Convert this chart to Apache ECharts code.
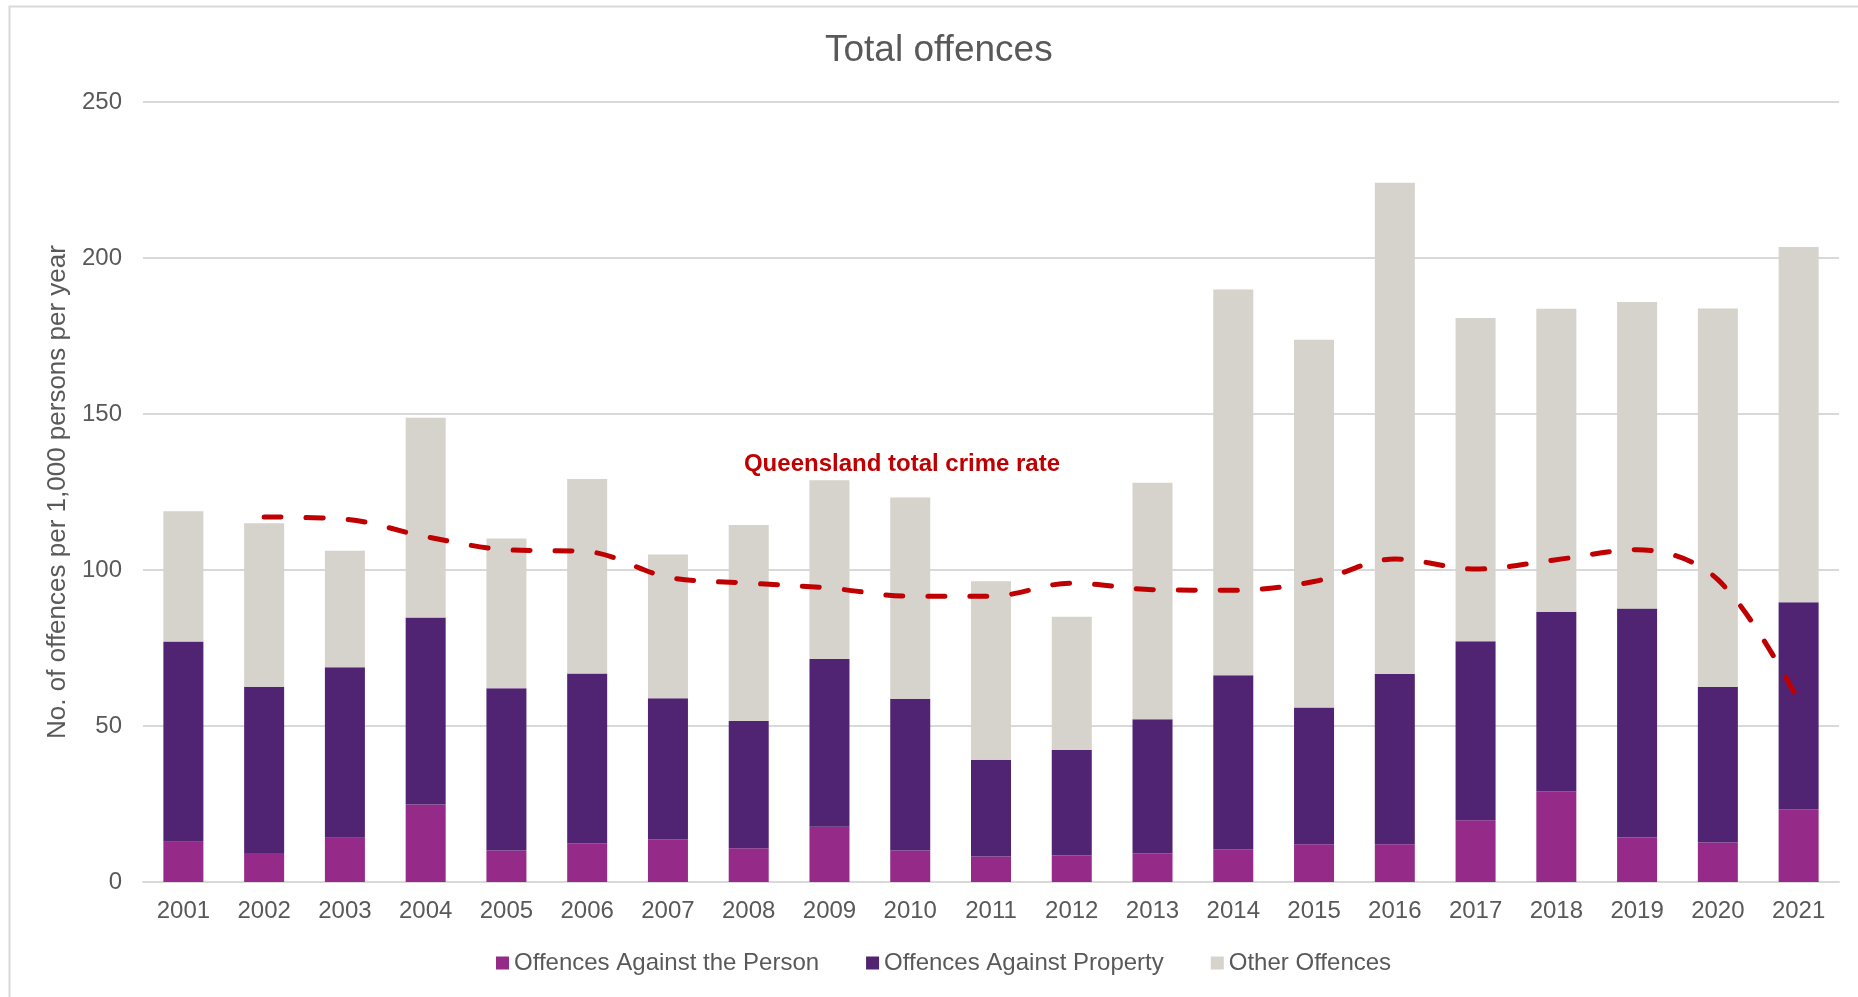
<!DOCTYPE html>
<html>
<head>
<meta charset="utf-8">
<script src="https://cdn.jsdelivr.net/npm/echarts@6/dist/echarts.min.js"></script>
<style>
html,body{margin:0;padding:0;background:#fff;}
#chart{width:1858px;height:997px;}
</style>
</head>
<body>
<div id="chart"></div>
<script>
const years = ['2001','2002','2003','2004','2005','2006','2007','2008','2009','2010','2011','2012','2013','2014','2015','2016','2017','2018','2019','2020','2021'];
const againstPerson = [12.9, 9.3, 14.2, 24.8, 10.1, 12.4, 13.7, 10.8, 17.7, 10.1, 8.2, 8.5, 9.2, 10.5, 12.1, 12.1, 19.8, 29.1, 14.3, 12.7, 23.3];
const againstProperty = [64.2, 53.3, 54.6, 60.0, 52.0, 54.4, 45.2, 40.8, 53.8, 48.6, 31.0, 33.8, 43.0, 55.8, 43.8, 54.6, 57.4, 57.5, 73.4, 49.8, 66.4];
const otherOffences = [41.7, 52.4, 37.4, 64.0, 48.0, 62.4, 46.1, 62.8, 57.3, 64.5, 57.2, 42.7, 75.8, 123.6, 117.9, 157.4, 103.6, 97.1, 98.2, 121.3, 113.8];
const qldRate = [null, 117.0, 116.3, 110.7, 106.5, 105.9, 97.7, 95.8, 94.2, 91.6, 91.6, 95.8, 93.7, 93.5, 96.3, 103.5, 100.3, 103.3, 106.5, 96.9, 58.0];
const yTicks = [0, 50, 100, 150, 200, 250];

const FONT = '"Liberation Sans", Arial, Helvetica, sans-serif';
const GREY = '#595959';

const chart = echarts.init(document.getElementById('chart'));
chart.setOption({
  backgroundColor: '#ffffff',
  animation: false,
  title: {
    text: 'Total offences',
    left: 825, top: 32, padding: 0,
    textStyle: { fontFamily: FONT, fontSize: 37, fontWeight: 'normal', color: GREY }
  },
  legend: {
    data: ['Offences Against the Person', 'Offences Against Property', 'Other Offences'],
    left: 496, top: 951, padding: 0,
    itemWidth: 13, itemHeight: 13, itemGap: 47,
    icon: 'rect',
    textStyle: { fontFamily: FONT, fontSize: 24, color: GREY }
  },
  grid: { left: 143, right: 19, top: 102, bottom: 115, containLabel: false },
  xAxis: {
    type: 'category',
    data: years,
    axisLine: { show: true, lineStyle: { color: '#D9D9D9', width: 2 } },
    axisTick: { show: false },
    axisLabel: { fontFamily: FONT, fontSize: 24, color: GREY, margin: 17 }
  },
  yAxis: {
    type: 'value',
    min: yTicks[0], max: yTicks[yTicks.length - 1], interval: 50,
    name: 'No. of offences per 1,000 persons per year',
    nameLocation: 'middle',
    nameGap: 71,
    nameTextStyle: { fontFamily: FONT, fontSize: 26, color: GREY },
    axisLine: { show: false },
    axisTick: { show: false },
    axisLabel: { fontFamily: FONT, fontSize: 24, color: GREY, margin: 21 },
    splitLine: { lineStyle: { color: '#D9D9D9', width: 2 } }
  },
  graphic: [
    {
      type: 'rect', z: -10, silent: true,
      shape: { x: 9.5, y: 6.5, width: 2400, height: 2400 },
      style: { fill: 'none', stroke: '#D9D9D9', lineWidth: 2 }
    },
    {
      type: 'text', z: 100, silent: true,
      x: 902, y: 464,
      style: {
        text: 'Queensland total crime rate',
        fill: '#C00000',
        font: 'bold 24px ' + FONT,
        textAlign: 'center', textVerticalAlign: 'middle'
      }
    }
  ],
  series: [
    {
      name: 'Offences Against the Person', type: 'bar', stack: 'total',
      barWidth: 40, data: againstPerson,
      itemStyle: { color: '#952A88' }
    },
    {
      name: 'Offences Against Property', type: 'bar', stack: 'total',
      barWidth: 40, data: againstProperty,
      itemStyle: { color: '#512373' }
    },
    {
      name: 'Other Offences', type: 'bar', stack: 'total',
      barWidth: 40, data: otherOffences,
      itemStyle: { color: '#D6D2CC' }
    },
    {
      name: 'Queensland total crime rate', type: 'line',
      data: qldRate, smooth: 0.35, showSymbol: false, symbol: 'none',
      connectNulls: false, z: 10,
      lineStyle: { color: '#C00000', width: 5, type: [17, 25], cap: 'round', join: 'round' }
    }
  ]
});
</script>
</body>
</html>
